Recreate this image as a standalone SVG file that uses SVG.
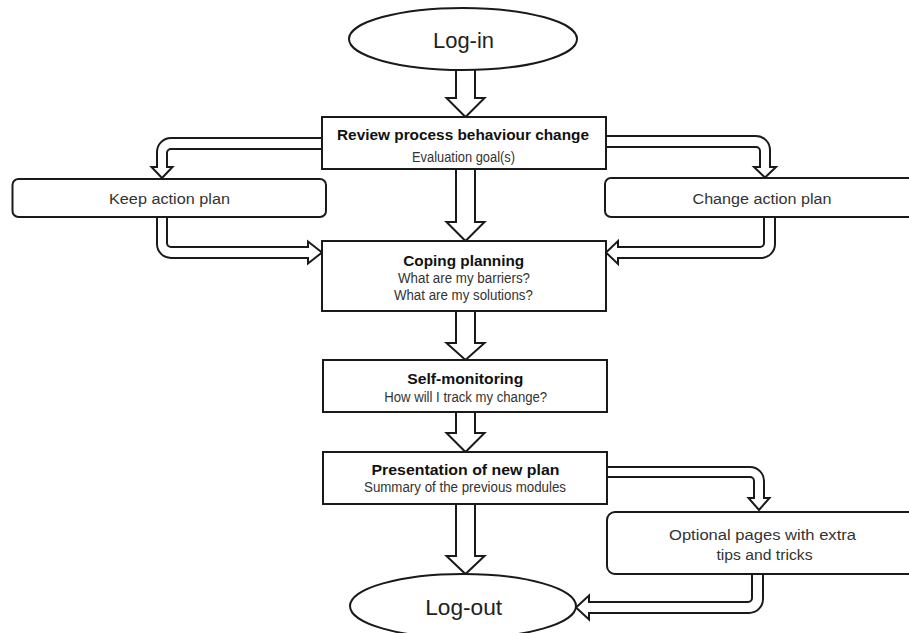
<svg xmlns="http://www.w3.org/2000/svg" width="909" height="633" viewBox="0 0 909 633">
<style>
.shape{fill:#fff;stroke:#1a1a1a;stroke-width:2}
.arrow{fill:#fff;stroke:#1a1a1a;stroke-width:2;stroke-linejoin:miter}
text{font-family:"Liberation Sans",Arial,sans-serif;fill:#333;text-anchor:middle}
.t{font-size:15.5px;font-weight:bold;fill:#111}
.s{font-size:14px}
.n{font-size:15.5px}
.big{font-size:22px;fill:#222}
</style>
<rect width="909" height="633" fill="#fff"/>
<g id="connectors">
<path class="arrow" d="M456,70 V98 H446.5 L465.5,117 L484.5,98 H475 V70"/>
<path class="arrow" d="M456,169 V222 H446.5 L465.5,241 L484.5,222 H475 V169"/>
<path class="arrow" d="M456,311 V343 H446.5 L465.5,360 L484.5,343 H475 V311"/>
<path class="arrow" d="M456,412 V433 H446.5 L465.5,452 L484.5,433 H475 V412"/>
<path class="arrow" d="M456,504 V556 H446.5 L465.5,574 L484.5,556 H475 V504"/>
<path class="arrow" d="M322,138 H171 A14,14 0 0 0 157,152 V167 H151.5 L162,178 L172.5,167 H167 V153 A4,4 0 0 1 171,149 H322"/>
<path class="arrow" d="M605,136 H756 A14,14 0 0 1 770,150 V167 H776 L765,177.5 L754,167 H760 V151 A4,4 0 0 0 756,147 H605"/>
<path class="arrow" d="M157,217 V244 A14,14 0 0 0 171,258 H308 V263.5 L322,252.5 L308,241.5 V247 H171 A4,4 0 0 1 167,243 V217"/>
<path class="arrow" d="M775,217 V244 A14,14 0 0 1 761,258 H618 V264 L606,252.5 L618,241 V247 H760 A4,4 0 0 0 764,243 V217"/>
<path class="arrow" d="M607,467 H750 A14,14 0 0 1 764,481 V498 H769.5 L759,510 L748.5,498 H754 V481 A4,4 0 0 0 750,477 H607"/>
<path class="arrow" d="M763,574 V599 A14,14 0 0 1 749,613 H589 V619.5 L576,607.5 L589,595.5 V602 H748 A4,4 0 0 0 752,598 V574"/>
</g>
<g id="login">
<ellipse class="shape" cx="463" cy="39" rx="114" ry="31"/>
<text class="big" x="463.5" y="48" textLength="61" lengthAdjust="spacingAndGlyphs">Log-in</text>
</g>
<g id="review">
<rect class="shape" x="322" y="117" width="284" height="52"/>
<text class="t" x="463" y="140" textLength="252" lengthAdjust="spacingAndGlyphs">Review process behaviour change</text>
<text class="s" x="463.5" y="162" textLength="103" lengthAdjust="spacingAndGlyphs">Evaluation goal(s)</text>
</g>
<g id="keep">
<rect class="shape" x="12.5" y="179" width="313.5" height="38" rx="6"/>
<text class="n" x="169.5" y="204" textLength="121" lengthAdjust="spacingAndGlyphs">Keep action plan</text>
</g>
<g id="change">
<rect class="shape" x="605" y="178" width="320" height="39" rx="6"/>
<text class="n" x="762" y="204" textLength="139" lengthAdjust="spacingAndGlyphs">Change action plan</text>
</g>
<g id="coping">
<rect class="shape" x="322" y="241" width="284" height="70"/>
<text class="t" x="463.7" y="266" textLength="121" lengthAdjust="spacingAndGlyphs">Coping planning</text>
<text class="s" x="464" y="283" textLength="132" lengthAdjust="spacingAndGlyphs">What are my barriers?</text>
<text class="s" x="463.4" y="300" textLength="139" lengthAdjust="spacingAndGlyphs">What are my solutions?</text>
</g>
<g id="selfmonitoring">
<rect class="shape" x="323" y="360" width="284" height="52"/>
<text class="t" x="465.3" y="384" textLength="116" lengthAdjust="spacingAndGlyphs">Self-monitoring</text>
<text class="s" x="465.7" y="401.5" textLength="163" lengthAdjust="spacingAndGlyphs">How will I track my change?</text>
</g>
<g id="presentation">
<rect class="shape" x="323" y="452" width="284" height="52"/>
<text class="t" x="465.5" y="475" textLength="188" lengthAdjust="spacingAndGlyphs">Presentation of new plan</text>
<text class="s" x="465" y="492" textLength="202" lengthAdjust="spacingAndGlyphs">Summary of the previous modules</text>
</g>
<g id="optional">
<rect class="shape" x="607" y="512" width="320" height="62" rx="8"/>
<text class="n" x="762.5" y="540" textLength="187" lengthAdjust="spacingAndGlyphs">Optional pages with extra</text>
<text class="n" x="764.5" y="559.5" textLength="96" lengthAdjust="spacingAndGlyphs">tips and tricks</text>
</g>
<g id="logout">
<ellipse class="shape" cx="463" cy="606" rx="113" ry="32"/>
<text class="big" x="463.7" y="615" textLength="77" lengthAdjust="spacingAndGlyphs">Log-out</text>
</g>
</svg>
